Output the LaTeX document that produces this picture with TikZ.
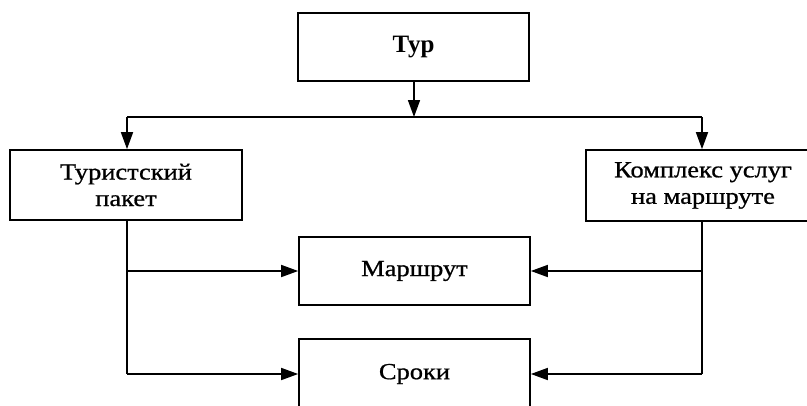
\documentclass[tikz,border=0pt]{standalone}
\usepackage{fontspec}
\setmainfont{Liberation Serif}
\newfontfamily\boxfont[FakeStretch=1.15,FakeBold=0.8]{Liberation Serif}
\usetikzlibrary{arrows.meta}
\begin{document}
\begin{tikzpicture}[x=1pt,y=-1pt,
  blk/.style={draw,line width=1.7pt,minimum width=231pt,minimum height=68pt,
    inner sep=0pt,align=center,font=\boxfont\fontsize{23}{26.5}\selectfont},
  ln/.style={line width=1.7pt},
  arr/.style={line width=1.7pt,-{Triangle[length=17pt,width=12pt]}}]
\useasboundingbox (0,0) rectangle (807,405);
\clip (0,0) rectangle (807,405);
\fill[white] (0,0) rectangle (807,405);
\node[blk,font=\bfseries\fontsize{25}{30}\selectfont] (tur) at (413.5,47) {Тур};
\node[blk,minimum width=232pt,minimum height=70pt] (pak) at (126,185) {Туристский\\пакет};
\node[blk,minimum width=234pt,minimum height=71pt] (kom) at (703,185.5) {Комплекс услуг\\на маршруте};
\node[blk] (mar) at (414.5,271) {Маршрут};
\node[blk,minimum height=70pt] (sro) at (414.5,374) {Сроки};
\coordinate (j) at (414,117);
\coordinate (hl) at (127,117);
\coordinate (hr) at (702,117);
\draw[arr] (tur.south -| j) -- (j);
\draw[ln] (hl) -- (hr);
\draw[arr] (hl) -- (hl |- pak.north);
\draw[arr] (hr) -- (hr |- kom.north);
\draw[ln] (hl |- pak.south) -- (hl |- sro.west);
\draw[ln] (hr |- kom.south) -- (hr |- sro.east);
\draw[arr] (hl |- mar.west) -- (mar.west);
\draw[arr] (hl |- sro.west) -- (sro.west);
\draw[arr] (hr |- mar.east) -- (mar.east);
\draw[arr] (hr |- sro.east) -- (sro.east);
\end{tikzpicture}
\end{document}
